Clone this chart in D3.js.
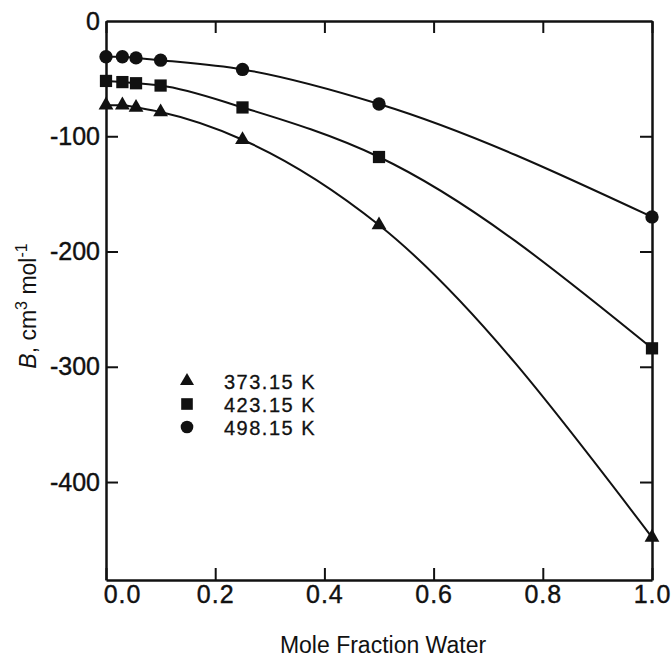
<!DOCTYPE html>
<html>
<head>
<meta charset="utf-8">
<script src="https://cdn.jsdelivr.net/npm/d3@7"></script>
<style>
  body { margin: 0; background: #fff; }
  text { font-family: "Liberation Sans", Arial, sans-serif; fill: #111; }
</style>
</head>
<body>
<div id="chart"></div>
<script>
// data
const xWater = [0, 0.03, 0.055, 0.1, 0.25, 0.5, 1.0];
const series = ["373.15 K", "423.15 K", "498.15 K"];
const b373 = [-73, -73, -75, -79, -103, -177, -448];
const b423 = [-52, -53, -54, -56, -75, -118, -284];
const b498 = [-31, -31, -32, -34, -42, -72, -170];
const xTicks = [0, 0.2, 0.4, 0.6, 0.8, 1.0];
const yTicks = [0, -100, -200, -300, -400];

const width = 672, height = 665,
  margin = { top: 21, right: 20, bottom: 85, left: 106 };

const svg = d3.select("#chart").append("svg")
  .attr("width", width)
  .attr("height", height);

const x = d3.scaleLinear().domain([0, 1]).range([margin.left, width - margin.right]);
const y = d3.scaleLinear().domain([-485, 0]).range([height - margin.bottom, margin.top]);

const sym = {
  "373.15 K": d3.symbolTriangle,
  "423.15 K": d3.symbolSquare,
  "498.15 K": d3.symbolCircle
};
const symSize = { "373.15 K": 95, "423.15 K": 150, "498.15 K": 140 };

const data = series.map((s, i) => ({
  name: s,
  values: xWater.map((xv, j) => ({ x: xv, y: [b373, b423, b498][i][j] }))
}));

// axes, ticks on the inside
const fmt = d3.format(".1f");
const gx = svg.append("g")
  .attr("transform", `translate(0,${y.range()[0]})`)
  .call(d3.axisBottom(x).tickValues(xTicks).tickFormat(fmt).tickSizeInner(-12).tickSizeOuter(0).tickPadding(5));
gx.selectAll("text").style("font-size", "25px").style("letter-spacing", "1px")
  .attr("stroke", "#111").attr("stroke-width", 0.4);
gx.selectAll("text").filter(d => d === 0).attr("dx", 16);

svg.append("g")
  .attr("transform", `translate(0,${margin.top})`)
  .call(d3.axisTop(x).tickValues(xTicks).tickFormat("").tickSizeInner(-12).tickSizeOuter(0));

const gy = svg.append("g")
  .attr("transform", `translate(${margin.left},0)`)
  .call(d3.axisLeft(y).tickValues(yTicks).tickFormat(d => String(d)).tickSizeInner(-12).tickSizeOuter(0).tickPadding(6));
gy.selectAll("text").style("font-size", "25px")
  .attr("stroke", "#111").attr("stroke-width", 0.4);
gy.selectAll(".tick").filter(d => d === 0).select("line").remove();

svg.append("g")
  .attr("transform", `translate(${width - margin.right},0)`)
  .call(d3.axisRight(y).tickValues(yTicks.slice(1)).tickFormat("").tickSizeInner(-12).tickSizeOuter(0));

svg.selectAll(".domain").attr("stroke", "#111").attr("stroke-width", 2.5);
svg.selectAll(".tick line").attr("stroke", "#111").attr("stroke-width", 2);

// curves
const line = d3.line()
  .x(d => x(d.x))
  .y(d => y(d.y))
  .curve(d3.curveMonotoneX);

svg.append("g").selectAll("path")
  .data(data)
  .join("path")
  .attr("d", d => line(d.values))
  .attr("fill", "none")
  .attr("stroke", "#111")
  .attr("stroke-width", 2);

// markers
data.forEach(d => {
  svg.append("g").selectAll("path")
    .data(d.values)
    .join("path")
    .attr("transform", p => `translate(${x(p.x)},${y(p.y)})`)
    .attr("d", d3.symbol().type(sym[d.name]).size(symSize[d.name]))
    .attr("fill", "#111");
});

// legend
const legend = svg.append("g").attr("transform", "translate(187,381)");
series.forEach((s, i) => {
  const row = legend.append("g").attr("transform", `translate(0,${i * 23})`);
  row.append("path")
    .attr("d", d3.symbol().type(sym[s]).size(symSize[s] * 0.9))
    .attr("fill", "#111");
  row.append("text")
    .attr("x", 37)
    .attr("y", 8)
    .style("font-size", "20px")
    .style("letter-spacing", "1.5px")
    .attr("stroke", "#111").attr("stroke-width", 0.3)
    .text(s);
});

// axis titles
svg.append("text")
  .attr("x", x(0.5) + 4)
  .attr("y", 653)
  .attr("text-anchor", "middle")
  .style("font-size", "23px")
  .text("Mole Fraction Water");

const yt = svg.append("text")
  .attr("transform", "translate(36,306) rotate(-90)")
  .attr("text-anchor", "middle")
  .style("font-size", "23px");
yt.append("tspan").attr("font-style", "italic").text("B");
yt.append("tspan").text(", cm");
yt.append("tspan").style("font-size", "16px").attr("dy", -9).text("3");
yt.append("tspan").attr("dy", 9).text(" mol");
yt.append("tspan").style("font-size", "16px").attr("dy", -9).text("-1");
</script>
</body>
</html>
